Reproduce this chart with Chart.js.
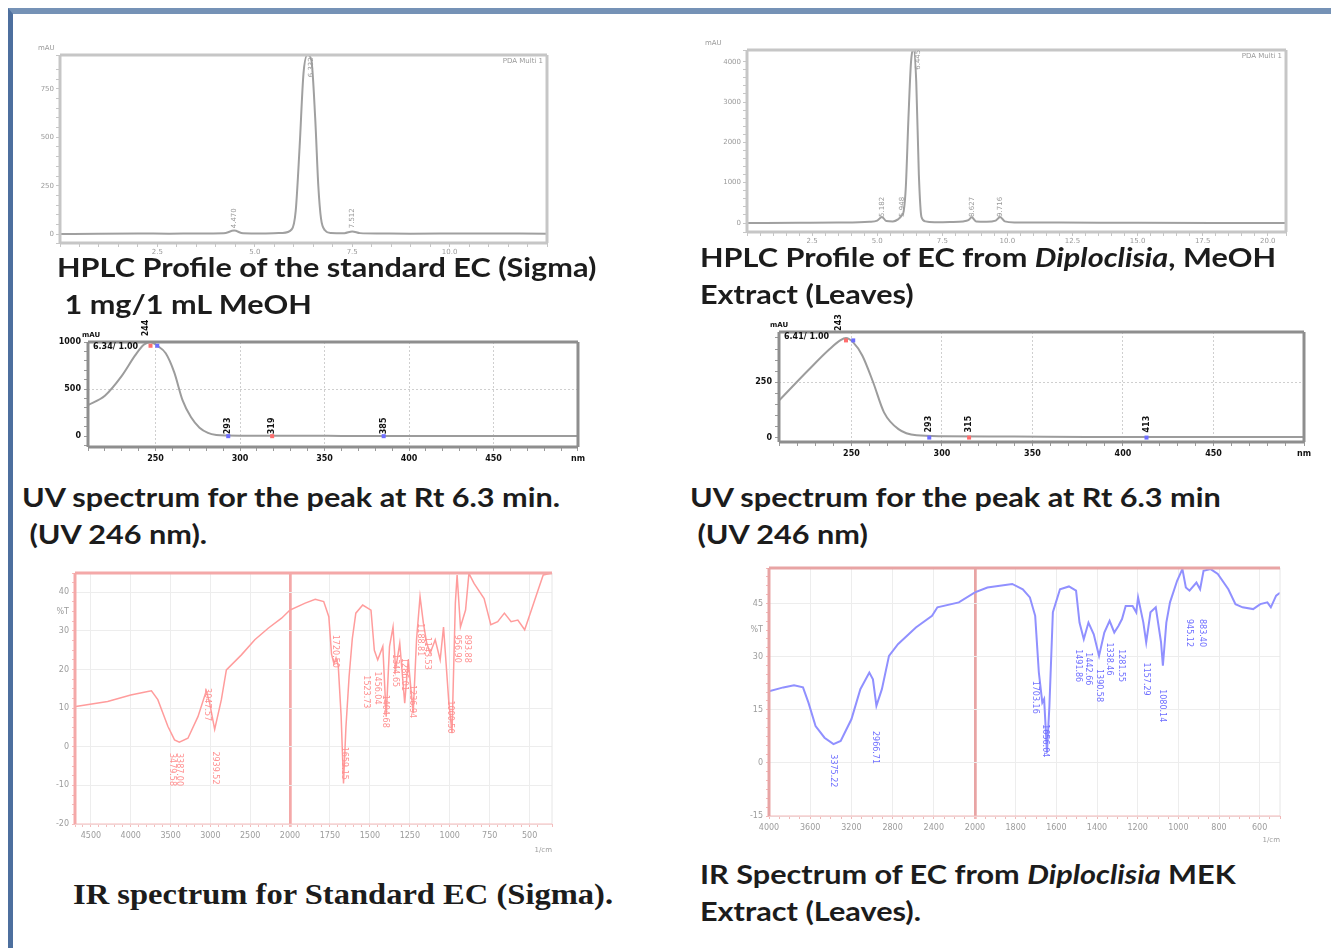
<!DOCTYPE html>
<html>
<head>
<meta charset="utf-8">
<script src="https://cdn.jsdelivr.net/npm/chart.js@4.4.1/dist/chart.umd.min.js"></script>
<style>
  html, body { margin: 0; padding: 0; background: #fff; }
  body { width: 1331px; height: 948px; position: relative; overflow: hidden; }
  .frame { position: absolute; left: 8px; top: 8px; right: -20px; bottom: -20px;
           border-top: 6px solid #7592b6; border-left: 5px solid #4d6f9e; }
  canvas { position: absolute; }
  .cap { position: absolute; font-family: Lato, "Open Sans", sans-serif; font-weight: 700;
         font-size: 27px; line-height: 37px; color: #1c1c1c; white-space: pre;
         transform: scaleX(1.135); transform-origin: 0 0; }
  .serif { font-family: "Liberation Serif", serif; font-size: 30px; transform: scaleX(1.085); }
</style>
</head>
<body>
<div class="frame"></div>

<canvas id="hplcStd" width="560" height="222" style="left:20px;top:38px"></canvas>
<canvas id="hplcDip" width="610" height="215" style="left:695px;top:35px"></canvas>
<canvas id="uvStd" width="548" height="160" style="left:40px;top:312px"></canvas>
<canvas id="uvDip" width="570" height="172" style="left:745px;top:300px"></canvas>
<canvas id="irStd" width="520" height="298" style="left:40px;top:562px"></canvas>
<canvas id="irDip" width="565" height="300" style="left:730px;top:555px"></canvas>

<div class="cap" style="left:57px;top:248px">HPLC Profile of the standard EC (Sigma)
 1 mg/1 mL MeOH</div>
<div class="cap" style="left:700px;top:238px">HPLC Profile of EC from <i>Diploclisia</i>, MeOH
Extract (Leaves)</div>
<div class="cap" style="left:22px;top:478px">UV spectrum for the peak at Rt 6.3 min.
 (UV 246 nm).</div>
<div class="cap" style="left:690px;top:478px">UV spectrum for the peak at Rt 6.3 min
 (UV 246 nm)</div>
<div class="cap serif" style="left:73px;top:875px">IR spectrum for Standard EC (Sigma).</div>
<div class="cap" style="left:700px;top:855px">IR Spectrum of EC from <i>Diploclisia</i> MEK
Extract (Leaves).</div>

<script>
// HPLC, standard EC (min, mAU)
const hplcStdTime = [0, 1.0, 2.0, 2.8, 3.5, 4.2, 4.47, 4.7, 5.2, 5.7, 5.95, 6.05, 6.15, 6.25, 6.35, 6.45, 6.55, 6.63, 6.7, 6.8, 6.95, 7.3, 7.5, 7.7, 8.2, 9.0, 10.5, 12.5];
const hplcStdSignal = [0, 2, 3, 2, 3, 4, 18, 4, 3, 6, 25, 120, 450, 830, 925, 900, 600, 250, 80, 20, 6, 5, 14, 5, 3, 2, 3, 2];
const hplcStdTicks = [2.5, 5.0, 7.5, 10.0];
const hplcStdLevels = [0, 250, 500, 750];
const hplcStdPeakTime = [4.47, 6.45, 7.5];
const hplcStdPeakLevel = [30, 810, 30];
const hplcStdPeakText = ['4.470', '6.332', '7.512'];

// HPLC, Diploclisia extract (min, mAU)
const hplcDipTime = [0, 2.0, 3.5, 4.7, 5.0, 5.18, 5.35, 5.6, 5.8, 5.95, 6.02, 6.1, 6.2, 6.3, 6.4, 6.5, 6.6, 6.7, 6.85, 7.2, 7.8, 8.3, 8.5, 8.63, 8.8, 9.2, 9.55, 9.72, 9.9, 10.3, 12.0, 15.0, 20.7];
const hplcDipSignal = [0, 5, 10, 30, 60, 150, 50, 40, 90, 190, 300, 900, 2600, 4000, 4290, 3500, 1200, 150, 40, 20, 25, 40, 70, 140, 40, 30, 60, 150, 40, 15, 10, 5, 0];
const hplcDipTicks = [2.5, 5.0, 7.5, 10.0, 12.5, 15.0, 17.5, 20.0];
const hplcDipLevels = [0, 1000, 2000, 3000, 4000];
const hplcDipPeakTime = [5.18, 5.95, 6.59, 8.63, 9.72];
const hplcDipPeakLevel = [150, 150, 3800, 150, 150];
const hplcDipPeakText = ['5.182', '5.948', '6.445', '8.627', '9.716'];

// UV spectra (nm, mAU)
const uvStdNm = [210, 220, 230, 238, 243, 247, 251, 256, 261, 266, 271, 276, 281, 286, 292, 300, 340, 360, 380, 420, 500];
const uvStdAbs = [330, 430, 640, 860, 970, 1000, 960, 880, 680, 380, 200, 90, 35, 12, 6, 5, 5, 3, 2, 2, 2];
const uvStdLevels = [0, 500, 1000];
const uvStdPeakNm = [244, 293, 319, 385];
const uvStdPeakAbs = [1060, 21, 21, 21];
const uvStdMarkNm = [247, 251, 293, 319, 385];
const uvStdMarkAbs = [960, 960, 0, 0, 0];

const uvDipNm = [210, 226, 238, 244, 247, 251, 256, 262, 268, 276, 286, 300, 340, 380, 420, 500];
const uvDipAbs = [167, 303, 400, 440, 450, 430, 371, 250, 114, 38, 10, 6, 5, 3, 3, 3];
const uvDipLevels = [0, 250];
const uvDipPeakNm = [243, 293, 315, 413];
const uvDipPeakAbs = [482, 23, 23, 23];
const uvDipMarkNm = [247, 251, 293, 315, 413];
const uvDipMarkAbs = [439, 439, 0, 0, 0];

const uvTicks = [250, 300, 350, 400, 450];
const uvMarkColors = ['#ff6d6d', '#6d6dff', '#6d6dff', '#ff6d6d', '#6d6dff'];

// IR, standard EC (1/cm, %T)
const irStdWave = [4690, 4290, 4000, 3786, 3740, 3660, 3534, 3450, 3390, 3282, 3156, 3051, 3009, 2946, 2862, 2799, 2610, 2442, 2274, 2106, 2000, 1905, 1842, 1789, 1757, 1740, 1725, 1712, 1698, 1680, 1665, 1650, 1630, 1610, 1588, 1545, 1493, 1472, 1451, 1419, 1398, 1377, 1355, 1339, 1313, 1282, 1260, 1229, 1208, 1186, 1165, 1144, 1123, 1091, 1060, 1039, 1007, 986, 965, 954, 933, 901, 880, 848, 785, 743, 700, 658, 616, 574, 531, 489, 447, 415, 360];
const irStdT = [10.4, 11.7, 13.4, 14.3, 14.5, 12.2, 5.3, 1.8, 1.2, 2.2, 7.8, 14.5, 11.3, 4.5, 12.2, 19.9, 23.8, 27.7, 30.7, 33.3, 35.4, 37.2, 38.2, 37.6, 33.7, 24, 21.5, 23, 21, 8, -9.5, 5, 18.2, 28, 34.6, 36.7, 35.4, 25, 22.5, 26, 7.8, 26, 31, 20, 26.8, 11.3, 22.5, 8.7, 27.7, 38.9, 32, 26.8, 24.2, 27.7, 22.5, 31, 12.2, 3.5, 37.2, 44.5, 31, 35.4, 44.9, 42.3, 38.4, 31.6, 32.4, 34.6, 32.4, 32.8, 30.3, 35.4, 40.6, 44.5, 45];
const irStdHighTicks = [4500, 4000, 3500, 3000, 2500];
const irStdLowTicks = [2000, 1750, 1500, 1250, 1000, 750, 500];
const irStdLevels = [-20, -10, 0, 10, 20, 30, 40];
const irStdPeakWave = [3479.58, 3387.00, 3047.57, 2939.52, 1720.50, 1659.15, 1523.73, 1456.04, 1404.68, 1344.65, 1286.01, 1236.94, 1188.81, 1143.53, 1000.50, 956.90, 893.88];
const irStdPeakT = [-1.6, -1.6, 15.2, -1.2, 29, 0, 18.5, 19.5, 13.5, 24, 23, 16, 32, 28.5, 12, 29, 29];

// IR, Diploclisia MEK extract (1/cm, %T)
const irDipWave = [4000, 3861, 3757, 3670, 3617, 3548, 3461, 3374, 3304, 3200, 3113, 3026, 2991, 2957, 2904, 2835, 2748, 2574, 2417, 2365, 2157, 2000, 1939, 1817, 1765, 1730, 1704, 1686, 1669, 1660, 1646, 1634, 1617, 1582, 1538, 1503, 1486, 1465, 1442, 1416, 1390, 1364, 1338, 1315, 1294, 1277, 1259, 1225, 1207, 1198, 1172, 1158, 1137, 1111, 1085, 1076, 1059, 1041, 1006, 980, 963, 945, 911, 893, 876, 841, 806, 754, 719, 684, 632, 597, 562, 545, 519, 500];
const irDipT = [20.2, 21.3, 21.9, 21.3, 17.0, 10.4, 7.1, 5.3, 6.2, 12.3, 20.8, 25.5, 23.6, 16.1, 20.8, 30.2, 33.5, 38.2, 41.5, 43.9, 45.3, 48.1, 49.5, 50.5, 49.0, 46.7, 41.5, 25.5, 17.0, 18, 2.9, 16.1, 42.5, 49.0, 49.8, 48.6, 39.6, 34.9, 39.6, 36.3, 30.2, 36.8, 40.1, 36.8, 38.7, 40.6, 44.3, 44.3, 42.5, 46.7, 39.6, 34.0, 42.5, 43.9, 34.0, 27.4, 39.6, 45.3, 51.4, 54.7, 49.5, 48.6, 50.9, 49.0, 54.2, 54.7, 53.3, 49.0, 44.8, 43.9, 43.4, 44.8, 45.3, 43.9, 47.2, 48];
const irDipHighTicks = [4000, 3600, 3200, 2800, 2400];
const irDipLowTicks = [2000, 1800, 1600, 1400, 1200, 1000, 800, 600];
const irDipLevels = [-15, 0, 15, 30, 45];
const irDipPeakWave = [3375.22, 2966.71, 1703.16, 1656.04, 1491.86, 1442.66, 1390.58, 1338.46, 1281.55, 1157.29, 1080.14, 945.12, 883.40];
const irDipPeakT = [2.4, 9.0, 23.2, 10.9, 32.1, 31.2, 26.5, 34, 32.1, 28.3, 20.8, 40.6, 40.6];

Chart.defaults.font.family = '"DejaVu Sans", sans-serif';
Chart.defaults.animation = false;
Chart.defaults.responsive = false;
Chart.defaults.plugins.legend.display = false;
Chart.defaults.plugins.tooltip.enabled = false;

const pts = (xs, ys) => xs.map((x, i) => ({ x, y: ys[i] }));
const clear = 'rgba(0,0,0,0)';

// frame sides, rotated peak labels, small markers and loose texts
const decor = {
  id: 'decor',
  afterDatasetsDraw(chart, args, o) {
    const { ctx, chartArea: a, scales } = chart;
    ctx.save();
    for (const [side, color, width] of o.sides || []) {
      ctx.strokeStyle = color;
      ctx.lineWidth = width;
      ctx.beginPath();
      if (side === 'top') { ctx.moveTo(a.left, a.top); ctx.lineTo(a.right, a.top); }
      if (side === 'bottom') { ctx.moveTo(a.left, a.bottom); ctx.lineTo(a.right, a.bottom); }
      if (side === 'left') { ctx.moveTo(a.left, a.top); ctx.lineTo(a.left, a.bottom); }
      if (side === 'right') { ctx.moveTo(a.right, a.top); ctx.lineTo(a.right, a.bottom); }
      ctx.stroke();
    }
    ctx.font = o.peakFont || '7px "DejaVu Sans"';
    ctx.fillStyle = o.peakColor || '#999';
    ctx.textBaseline = 'middle';
    ctx.textAlign = 'left';
    for (const p of o.peaks || []) {
      ctx.save();
      ctx.translate(scales[p.axis || 'x'].getPixelForValue(p.x), scales.y.getPixelForValue(p.y));
      ctx.rotate(o.peakDown ? Math.PI / 2 : -Math.PI / 2);
      ctx.fillText(p.text, 0, 0);
      ctx.restore();
    }
    for (const m of o.marks || []) {
      ctx.fillStyle = m.color;
      ctx.fillRect(scales.x.getPixelForValue(m.x) - 2, scales.y.getPixelForValue(m.y) - 2, 4, 4);
    }
    for (const t of o.texts || []) {
      ctx.font = t.font;
      ctx.fillStyle = t.color || '#999';
      ctx.textAlign = t.align || 'left';
      ctx.fillText(t.text, (t.right ? a.right : a.left) + t.dx, (t.below ? a.bottom : a.top) + t.dy);
    }
    ctx.restore();
  }
};

function hplc(id, o) {
  const gray = '#c6c6c6';
  return new Chart(document.getElementById(id), {
    type: 'line',
    data: { datasets: [{ data: pts(o.time, o.signal), borderColor: '#a0a0a0', borderWidth: 2,
                         pointRadius: 0, cubicInterpolationMode: 'monotone' }] },
    options: {
      layout: { padding: o.pad },
      scales: {
        x: {
          type: 'linear', min: 0, max: o.xMax,
          afterFit: s => { s.height = o.xHeight; },
          border: { display: false },
          grid: { drawOnChartArea: false, tickLength: 4, color: gray },
          ticks: { stepSize: 0.5, autoSkip: false, maxRotation: 0, padding: 1, color: '#9a9a9a',
                   font: { size: 7 }, callback: v => o.xLabels.includes(v) ? v.toFixed(1) : '' }
        },
        y: {
          min: o.yMin, max: o.yMax,
          afterFit: s => { s.width = o.yWidth; },
          border: { display: false },
          grid: { drawOnChartArea: false, tickLength: 4, color: gray },
          ticks: { stepSize: o.yStep, autoSkip: false, padding: 2, color: '#9a9a9a',
                   font: { size: 7 }, callback: v => o.yLabels.includes(v) ? v : '' }
        }
      },
      plugins: {
        decor: {
          sides: [['top', gray, 3], ['right', gray, 3], ['bottom', gray, 3], ['left', gray, 3]],
          peaks: o.peaks,
          texts: [
            { text: 'mAU', font: '7px "DejaVu Sans"', dx: o.unitDx, dy: -7 },
            { text: 'PDA Multi 1', font: '7px "DejaVu Sans"', align: 'right', right: true, dx: -4, dy: 6 }
          ]
        }
      }
    },
    plugins: [decor]
  });
}

function uv(id, o) {
  const edge = '#8e8e8e';
  const black = '#111';
  return new Chart(document.getElementById(id), {
    type: 'line',
    data: { datasets: [{ data: pts(o.nm, o.abs), borderColor: '#9c9c9c', borderWidth: 2,
                         pointRadius: 0, cubicInterpolationMode: 'monotone' }] },
    options: {
      layout: { padding: o.pad },
      scales: {
        x: {
          type: 'linear', min: 210, max: 500,
          afterFit: s => { s.height = o.xHeight; },
          border: { display: false, dash: [2, 2] },
          grid: { color: c => c.tick && uvTicks.includes(c.tick.value) ? '#cfcfcf' : clear,
                  tickColor: '#9a9a9a', tickLength: 4 },
          ticks: { stepSize: 10, autoSkip: false, maxRotation: 0, padding: 3, color: black,
                   font: { size: 8, weight: 'bold' },
                   callback: v => v === 500 ? 'nm' : (uvTicks.includes(v) ? v : '') }
        },
        y: {
          min: o.yMin, max: o.yMax,
          afterFit: s => { s.width = o.yWidth; },
          border: { display: false, dash: [2, 2] },
          grid: { color: c => c.tick && o.levels.includes(c.tick.value) && c.tick.value > 0 && c.tick.value < o.yMax ? '#cfcfcf' : clear,
                  tickColor: '#9a9a9a', tickLength: 4 },
          ticks: { stepSize: o.yStep, includeBounds: false, autoSkip: false, padding: 3, color: black,
                   font: { size: 8, weight: 'bold' }, callback: v => o.levels.includes(v) ? v : '' }
        }
      },
      plugins: {
        decor: {
          sides: [['top', edge, 3], ['right', edge, 3], ['bottom', edge, 3], ['left', edge, 3]],
          peakFont: 'bold 8px "DejaVu Sans"',
          peakColor: black,
          peaks: o.peaks,
          marks: o.marks,
          texts: [
            { text: 'mAU', font: 'bold 7px "DejaVu Sans"', color: black, dx: o.unitDx, dy: -7 },
            { text: o.pick, font: 'bold 8px "DejaVu Sans"', color: black, dx: 5, dy: 5 }
          ]
        }
      }
    },
    plugins: [decor]
  });
}

function ir(id, o) {
  const all = pts(o.wave, o.trans);
  const wnAxis = (min, max, step, weight, labels) => ({
    type: 'linear', position: 'bottom', stack: 'wn', stackWeight: weight, reverse: true, min, max,
    afterFit: s => { s.height = o.xHeight; },
    border: { display: false },
    grid: {
      color: c => !c.tick ? clear : c.tick.value === 2000 ? o.edge : (labels.includes(c.tick.value) ? '#ededed' : clear),
      lineWidth: c => c.tick && c.tick.value === 2000 ? 2.5 : 1,
      tickColor: o.tickColor, tickLength: 3
    },
    ticks: { stepSize: step, autoSkip: false, maxRotation: 0, padding: 4, color: '#9c9c9c',
             font: { size: 8 }, callback: v => labels.includes(v) ? v : '' }
  });
  const line = { borderColor: o.color, borderWidth: o.width, pointRadius: 0, tension: 0 };
  return new Chart(document.getElementById(id), {
    type: 'line',
    data: {
      datasets: [
        { ...line, data: all.filter(p => p.x >= 2000), xAxisID: 'x1' },
        { ...line, data: all.filter(p => p.x <= 2000), xAxisID: 'x2' }
      ]
    },
    options: {
      layout: { padding: o.pad },
      scales: {
        x1: wnAxis(2000, o.high, 100, o.weights[0], o.highTicks),
        x2: wnAxis(o.low, 2000, 50, o.weights[1], o.lowTicks),
        y: {
          min: o.yMin, max: o.yMax,
          afterFit: s => { s.width = o.yWidth; },
          border: { display: false },
          grid: { color: c => c.tick && o.levels.includes(c.tick.value) ? '#ededed' : clear,
                  tickColor: o.tickColor, tickLength: 3 },
          ticks: { stepSize: 2.5, autoSkip: false, padding: 3, color: '#9c9c9c', font: { size: 8 },
                   callback: v => v === o.unitAt ? '%T' : (o.levels.includes(v) ? v : '') }
        }
      },
      plugins: {
        decor: {
          sides: [['right', '#e6e6e6', 1], ['bottom', o.tickColor, 1], ['left', o.edge, 3], ['top', o.edge, 3]],
          peakFont: '8px "DejaVu Sans"',
          peakColor: o.labelColor,
          peakDown: true,
          peaks: o.peaks,
          texts: [{ text: '1/cm', font: '7px "DejaVu Sans"', color: '#9c9c9c', right: true, below: true,
                    align: 'right', dx: 0, dy: o.unitDy }]
        }
      }
    },
    plugins: [decor]
  });
}

hplc('hplcStd', {
  time: hplcStdTime, signal: hplcStdSignal, xMax: 12.5, xLabels: hplcStdTicks,
  yMin: -46, yMax: 925, yStep: 50, yLabels: hplcStdLevels,
  pad: { top: 17, right: 33, left: 0, bottom: 0 }, yWidth: 40, xHeight: 17, unitDx: -22,
  peaks: hplcStdPeakTime.map((t, i) => ({ x: t, y: hplcStdPeakLevel[i], text: hplcStdPeakText[i] }))
});

hplc('hplcDip', {
  time: hplcDipTime, signal: hplcDipSignal, xMax: 20.7, xLabels: hplcDipTicks,
  yMin: -223, yMax: 4290, yStep: 200, yLabels: hplcDipLevels,
  pad: { top: 15, right: 19, left: 0, bottom: 0 }, yWidth: 52, xHeight: 18, unitDx: -42,
  peaks: hplcDipPeakTime.map((t, i) => ({ x: t, y: hplcDipPeakLevel[i], text: hplcDipPeakText[i] }))
});

uv('uvStd', {
  nm: uvStdNm, abs: uvStdAbs, yMin: -115, yMax: 1000, yStep: 100, levels: uvStdLevels,
  pad: { top: 30, right: 10, left: 0, bottom: 0 }, yWidth: 48, xHeight: 25, unitDx: -6, pick: '6.34/ 1.00',
  peaks: uvStdPeakNm.map((n, i) => ({ x: n, y: uvStdPeakAbs[i], text: String(n) })),
  marks: uvStdMarkNm.map((n, i) => ({ x: n, y: uvStdMarkAbs[i], color: uvMarkColors[i] }))
});

uv('uvDip', {
  nm: uvDipNm, abs: uvDipAbs, yMin: -20, yMax: 477, yStep: 50, levels: uvDipLevels,
  pad: { top: 32, right: 11, left: 0, bottom: 0 }, yWidth: 34, xHeight: 30, unitDx: -9, pick: '6.41/ 1.00',
  peaks: uvDipPeakNm.map((n, i) => ({ x: n, y: uvDipPeakAbs[i], text: String(n) })),
  marks: uvDipMarkNm.map((n, i) => ({ x: n, y: uvDipMarkAbs[i], color: uvMarkColors[i] }))
});

ir('irStd', {
  wave: irStdWave, trans: irStdT, high: 4700, low: 360, weights: [215, 262],
  highTicks: irStdHighTicks, lowTicks: irStdLowTicks, levels: irStdLevels, unitAt: 35,
  yMin: -20, yMax: 45, color: '#ff9c9c', width: 1.5, edge: '#f4a8a8', tickColor: '#f6bcbc',
  labelColor: '#ff9090', pad: { top: 11, right: 8, left: 0, bottom: 0 }, yWidth: 35, xHeight: 36, unitDy: 26,
  peaks: irStdPeakWave.map((w, i) => ({ x: w, y: irStdPeakT[i], text: w.toFixed(2), axis: w >= 2000 ? 'x1' : 'x2' }))
});

ir('irDip', {
  wave: irDipWave, trans: irDipT, high: 4000, low: 500, weights: [206, 305],
  highTicks: irDipHighTicks, lowTicks: irDipLowTicks, levels: irDipLevels, unitAt: 37.5,
  yMin: -15, yMax: 55, color: '#9090ff', width: 2, edge: '#e8a4a4', tickColor: '#f2b8b8',
  labelColor: '#6f6fff', pad: { top: 13, right: 15, left: 0, bottom: 0 }, yWidth: 39, xHeight: 39, unitDy: 24,
  peaks: irDipPeakWave.map((w, i) => ({ x: w, y: irDipPeakT[i], text: w.toFixed(2), axis: w >= 2000 ? 'x1' : 'x2' }))
});
</script>
</body>
</html>
